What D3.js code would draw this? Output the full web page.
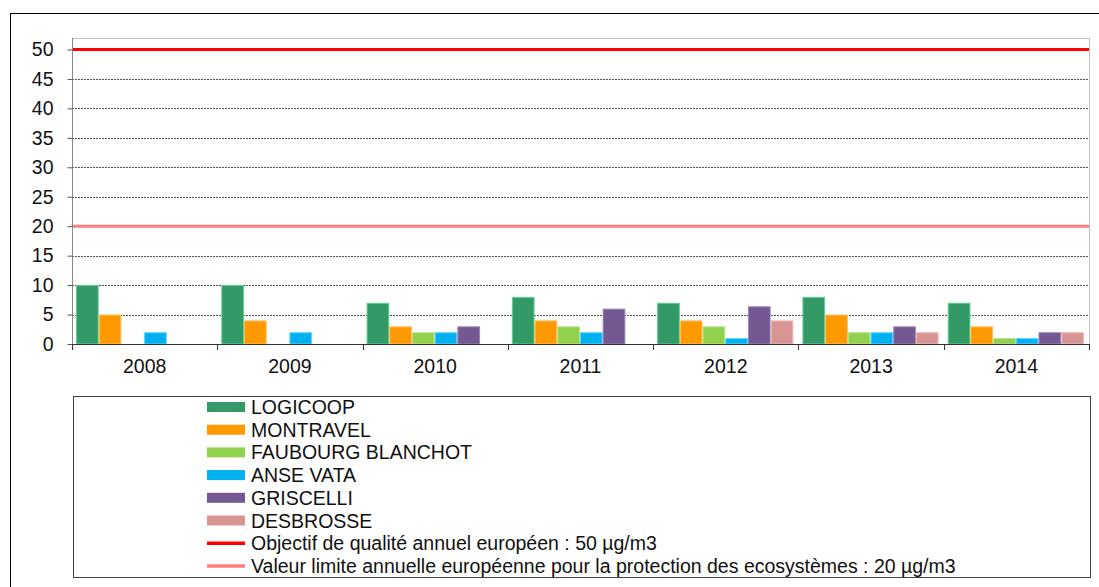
<!DOCTYPE html>
<html><head><meta charset="utf-8">
<script src="https://cdn.jsdelivr.net/npm/d3@7"></script>
<style>body{margin:0;background:#fff}svg{display:block}text{font-family:"Liberation Sans",Arial,sans-serif}</style>
</head><body><svg id="c" width="1099" height="587"></svg>
<script>
const years = ["2008","2009","2010","2011","2012","2013","2014"];
const stations = ["LOGICOOP","MONTRAVEL","FAUBOURG BLANCHOT","ANSE VATA","GRISCELLI","DESBROSSE"];
const colors = ["#339966","#FF9900","#92D050","#00B0F0","#735892","#D99594"];
const strokes = ["#5fd08f","#ffc060","#b5e585","#60d4ff","#9a84b5","#ebb9b8"];
const LOGICOOP = [10,10,7,8,7,8,7];
const MONTRAVEL = [5,4,3,4,4,5,3];
const FAUBOURG = [null,null,2,3,3,2,1];
const ANSEVATA = [2,2,2,2,1,2,1];
const GRISCELLI = [null,null,3,6,6.4,3,2];
const DESBROSSE = [null,null,null,null,4,2,2];
const seriesValues = [LOGICOOP,MONTRAVEL,FAUBOURG,ANSEVATA,GRISCELLI,DESBROSSE];
const yTicks = [0,5,10,15,20,25,30,35,40,45,50];
const refLines = [
  {value:50,color:"#FF0000",label:"Objectif de qualité annuel européen : 50 µg/m3"},
  {value:20,color:"#FF7C80",label:"Valeur limite annuelle européenne pour la protection des ecosystèmes : 20 µg/m3"}
];

const FS = 19.5;
const svg = d3.select("#c");
svg.append("rect").attr("x",10.5).attr("y",13.5).attr("width",1100).attr("height",600)
  .attr("fill","none").attr("stroke","#000").attr("stroke-width",1);

const L=72, R=1089, T=38, B=344;
const x = d3.scaleBand().domain(years).range([L,R]).paddingInner(0).paddingOuter(0);
const xs = d3.scaleBand().domain(stations).range([4,4+6*22.7]).padding(0);
const y = d3.scaleLinear().domain([0,50]).range([B,49.5]);

svg.append("rect").attr("x",L+0.5).attr("y",T+0.5).attr("width",R-L).attr("height",B-T)
  .attr("fill","none").attr("stroke","#c0c0c0");

svg.append("g").selectAll("line").data(yTicks.filter(v=>v>0 && !refLines.some(r=>r.value===v)))
  .join("line").attr("x1",L).attr("x2",R).attr("y1",d=>Math.round(y(d))+0.5).attr("y2",d=>Math.round(y(d))+0.5)
  .attr("stroke","#555").attr("stroke-dasharray","2,1");

const data = [];
years.forEach((yr,i)=>stations.forEach((s,j)=>{const v=seriesValues[j][i]; if(v!=null) data.push({yr,s,v,j});}));
svg.append("g").selectAll("rect").data(data).join("rect")
  .attr("x",d=>x(d.yr)+xs(d.s)+0.5).attr("width",xs.bandwidth()-1)
  .attr("y",d=>y(d.v)+0.5).attr("height",d=>B-y(d.v)-0.5)
  .attr("fill",d=>colors[d.j]).attr("stroke",d=>strokes[d.j]).attr("stroke-width",1);

svg.append("g").selectAll("line").data(refLines).join("line")
  .attr("x1",L).attr("x2",R).attr("y1",d=>y(d.value)).attr("y2",d=>y(d.value))
  .attr("stroke",d=>d.color).attr("stroke-width",3);

const ya = svg.append("g").attr("transform",`translate(${L+0.5},0)`)
  .call(d3.axisLeft(y).tickValues(yTicks).tickSize(5).tickPadding(14).tickFormat(d3.format("d")));
ya.select(".domain").attr("stroke","#888").attr("d",`M0,${T}V${B+6}`);
ya.selectAll(".tick line").attr("stroke","#555");
ya.selectAll("text").attr("font-size",FS).attr("fill","#111").attr("font-family","Liberation Sans, Arial, sans-serif");

const xa = svg.append("g").attr("transform",`translate(0,${B+0.5})`)
  .call(d3.axisBottom(x).tickSize(0).tickPadding(15));
xa.select(".domain").attr("stroke","#333").attr("d",`M${L},0H${R}`);
xa.selectAll("text").attr("font-size",FS).attr("fill","#111").attr("font-family","Liberation Sans, Arial, sans-serif");
svg.append("g").selectAll("line").data(years.concat(["end"])).join("line")
  .attr("x1",(d,i)=>Math.round(L+i*x.step())+0.5).attr("x2",(d,i)=>Math.round(L+i*x.step())+0.5)
  .attr("y1",B).attr("y2",B+6).attr("stroke","#333");

svg.append("rect").attr("x",73.5).attr("y",396.5).attr("width",1017).attr("height",181)
  .attr("fill","none").attr("stroke","#404040");
const items = stations.map((s,i)=>({label:s,color:colors[i],type:"bar"}))
  .concat(refLines.map(r=>({label:r.label,color:r.color,type:"line"})));
const lg = svg.append("g").selectAll("g").data(items).join("g")
  .attr("transform",(d,i)=>`translate(207,${407+i*22.7})`);
lg.filter(d=>d.type==="bar").append("rect").attr("x",0).attr("y",-5).attr("width",38).attr("height",10)
  .attr("fill",d=>d.color);
lg.filter(d=>d.type==="line").append("line").attr("x1",0).attr("x2",38).attr("y1",0).attr("y2",0)
  .attr("stroke",d=>d.color).attr("stroke-width",3.5);
lg.append("text").attr("x",44).attr("y",0).attr("dy","0.36em").attr("font-size",FS).attr("fill","#111")
  .text(d=>d.label);
</script></body></html>
